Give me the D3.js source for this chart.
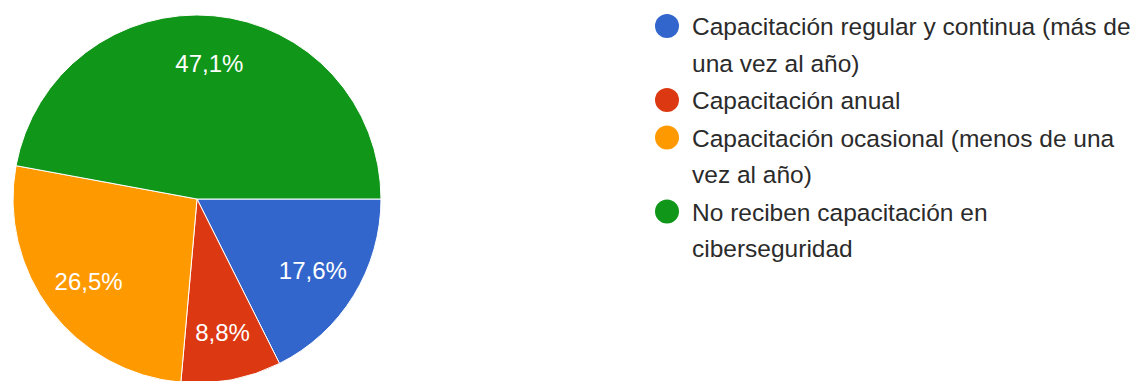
<html>

<head>
    <meta charset="utf-8" />
    <title>Capacitación en ciberseguridad</title>
    <script src="https://cdn.jsdelivr.net/npm/d3@7"></script>
</head>
<style>
    body {
        margin: 0;
        padding: 0;
        background: white;
    }

    svg text {
        font-family: "Liberation Sans", Arial, sans-serif;
    }
</style>

<body>
    <div id="chart"></div>
</body>

<script type="text/javascript">

    // categories (legend text, already split into the wrapped lines)
    const categories = [
        ["Capacitación regular y continua (más de", "una vez al año)"],
        ["Capacitación anual"],
        ["Capacitación ocasional (menos de una", "vez al año)"],
        ["No reciben capacitación en", "ciberseguridad"]
    ];
    const values = [17.6, 8.8, 26.5, 47.1];
    const valueLabels = ["17,6%", "8,8%", "26,5%", "47,1%"];
    const colors = ["#3366cc", "#dc3912", "#ff9900", "#109618"];

    const width = 1138
    const height = 381
    const cx = 197, cy = 199
    const radius = 184

    const svg = d3.select("#chart")
        .append("svg")
        .attr("width", width)
        .attr("height", height)

    const color = d3.scaleOrdinal()
        .domain(d3.range(values.length))
        .range(colors)

    // google style pie: starts at 3 o'clock, goes clockwise
    const pie = d3.pie()
        .sort(null)
        .startAngle(Math.PI / 2)
        .endAngle(Math.PI / 2 + 2 * Math.PI)
        .value(d => d)

    const slices = pie(values)

    const arc = d3.arc()
        .innerRadius(0)
        .outerRadius(radius)

    const labelArc = d3.arc()
        .innerRadius(radius * 0.74)
        .outerRadius(radius * 0.74)

    const g = svg.append("g")
        .attr("transform", "translate(" + cx + "," + cy + ")")

    g.selectAll("path")
        .data(slices)
        .enter()
        .append("path")
        .attr("d", arc)
        .attr("fill", (d, i) => color(i))
        .attr("stroke", "white")
        .attr("stroke-width", 1)

    g.selectAll("text.pct")
        .data(slices)
        .enter()
        .append("text")
        .attr("class", "pct")
        .attr("transform", d => "translate(" + labelArc.centroid(d) + ")")
        .attr("text-anchor", "middle")
        .attr("dy", "0.35em")
        .attr("fill", "white")
        .style("font-size", "24px")
        .text((d, i) => valueLabels[i])

    // legend
    const lineH = 36.5
    const itemGap = 1
    const legendX = 667
    let baseline = 35

    const legend = svg.append("g")

    categories.forEach((lines, i) => {
        legend.append("circle")
            .attr("cx", legendX)
            .attr("cy", baseline - 9)
            .attr("r", 12)
            .attr("fill", color(i))

        lines.forEach((line, j) => {
            legend.append("text")
                .attr("x", legendX + 25)
                .attr("y", baseline + j * lineH)
                .attr("fill", "#2b2b2b")
                .style("font-size", "24.5px")
                .text(line)
        })
        baseline += lines.length * lineH + itemGap
    })

</script>

</html>
